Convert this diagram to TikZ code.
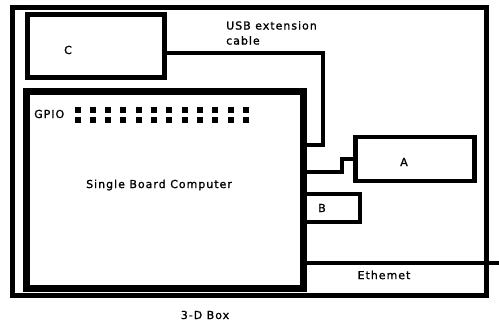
\documentclass[tikz,border=0pt]{standalone}
\usepackage{fontspec}
\setmainfont{DejaVu Sans}
\newfontfamily\labfont[LetterSpace=9,FakeBold=1.2]{DejaVu Sans}
\begin{document}
\begin{tikzpicture}[x=1pt,y=-1pt,
  box/.style={draw,rectangle,inner sep=0pt},
  lbl/.style={inner sep=0pt,font=\labfont\fontsize{11}{13}\selectfont},
  wire/.style={line width=3.6pt},
  pin/.style={fill=black}]
\useasboundingbox (0,0) rectangle (499,324);
% boxes
\node[box,line width=5pt,minimum width=474pt,minimum height=288pt] (outer) at (249.5,151.5) {};
\node[box,line width=5pt,minimum width=137pt,minimum height=63pt] (C) at (96,46) {};
\node[box,line width=7pt,minimum width=277pt,minimum height=197pt] (SBC) at (165,190) {};
\node[box,line width=4.5pt,minimum width=119pt,minimum height=44pt] (A) at (415,159) {};
\node[box,line width=4pt,minimum width=55pt,minimum height=28pt] (B) at (332.5,208) {};
% labels
\node[lbl] (Clbl) at (68,50) {C};
\node[lbl] (Albl) at (404,162) {A};
\node[lbl] (Blbl) at (322,208) {B};
\node[lbl,anchor=west] (gpio) at (34,114) {GPIO};
\node[lbl] (sbclbl) at (159,185) {Single Board Computer};
\node[lbl,anchor=north west,align=left,font=\labfont\fontsize{11}{15}\selectfont] (usblbl) at (226,21) {USB extension\\cable};
\node[lbl] (ethlbl) at (384,275) {Ethemet};
\node[lbl] (boxlbl) at (205,315) {3-D Box};
% GPIO pins
\foreach \i in {0,...,11}{
  \fill[pin] ({74.5+15.3*\i},106.5) rectangle ++(6,6);
  \fill[pin] ({74.5+15.3*\i},116.5) rectangle ++(6,6);
}
% connectors
\coordinate (usbturn) at (323,145);
\draw[wire] ([yshift=-7pt]C.east) -| (usbturn) -- (SBC.east |- usbturn);
\coordinate (aturn) at (342,172);
\draw[wire] (SBC.east |- aturn) -- (aturn) |- (A.west);
\coordinate (ethend) at (499,263);
\draw[wire] (SBC.east |- ethend) -- (ethend);
\end{tikzpicture}
\end{document}
